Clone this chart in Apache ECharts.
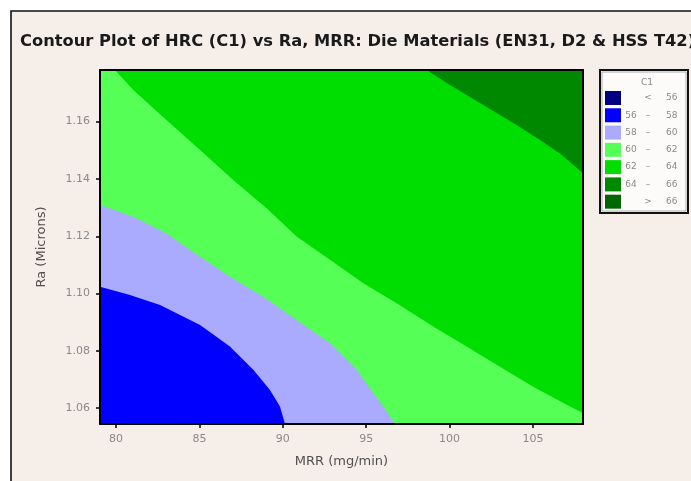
<!DOCTYPE html>
<html>
<head>
<meta charset="utf-8">
<style>
  html, body { margin: 0; padding: 0; background: #ffffff; }
  #chart { width: 691px; height: 481px; }
</style>
<script src="https://cdn.jsdelivr.net/npm/echarts@6/dist/echarts.min.js"></script>
</head>
<body>
<div id="chart"></div>
<script>
// Axis ranges and tick positions
const mrrRange = [79.04, 108.0];
const raRange = [1.0545, 1.178];
const mrrTicks = [80, 85, 90, 95, 100, 105];
const raTicks = [1.06, 1.08, 1.10, 1.12, 1.14, 1.16];

// Contour boundaries of HRC, as [MRR, Ra] points
const hrc58 = [[79.04, 1.1024], [80.84, 1.0995], [82.64, 1.0960], [85.04, 1.0890], [86.83, 1.0815],
  [88.23, 1.0734], [89.23, 1.0664], [89.83, 1.0606], [90.13, 1.0545]];
const hrc60 = [[79.04, 1.1309], [81.04, 1.1268], [83.04, 1.1210], [84.44, 1.1152], [86.83, 1.1059],
  [88.83, 1.0989], [90.83, 1.0908], [92.83, 1.0827], [94.43, 1.0734], [95.43, 1.0652],
  [96.03, 1.0606], [96.73, 1.0545]];
const hrc62 = [[79.04, 1.178], [79.94, 1.178], [81.04, 1.1710], [83.04, 1.1605], [85.04, 1.1501],
  [87.03, 1.1396], [89.03, 1.1298], [90.83, 1.1199], [92.83, 1.1118], [94.83, 1.1036],
  [96.83, 1.0966], [99.02, 1.0885], [101.02, 1.0815], [103.02, 1.0745], [105.02, 1.0675],
  [107.02, 1.0612], [108.0, 1.0583]];
const hrc64 = [[98.63, 1.178], [100.02, 1.1728], [102.02, 1.1658], [104.02, 1.1588],
  [105.42, 1.1536], [106.62, 1.1489], [108.0, 1.1420]];
// The 62-64 band fills the rest of the plot: its top edge
const plotTop = [[79.04, 1.178], [108.0, 1.178]];

// Band legend
const bandNames = ['< 56', '56 - 58', '58 - 60', '60 - 62', '62 - 64', '64 - 66', '> 66'];
const bandLo = ['', '56', '58', '60', '62', '64', ''];
const bandSep = ['<', '\u2013', '\u2013', '\u2013', '\u2013', '\u2013', '>'];
const bandHi = ['56', '58', '60', '62', '64', '66', '66'];
const bandColors = ['#000080', '#0000ff', '#aaaaff', '#55ff55', '#00dd00', '#008800', '#006600'];

function band(idx, data, origin) {
  return {
    type: 'line',
    name: bandNames[idx],
    data: data,
    color: bandColors[idx],
    showSymbol: false,
    symbol: 'none',
    smooth: false,
    clip: true,
    silent: true,
    lineStyle: { width: 0, color: bandColors[idx] },
    itemStyle: { color: bandColors[idx] },
    areaStyle: { color: bandColors[idx], opacity: 1, origin: origin || 'start' },
    z: 2
  };
}

const chart = echarts.init(document.getElementById('chart'), null, { renderer: 'canvas' });

const labelFont = 'DejaVu Sans';
const option = {
  backgroundColor: '#ffffff',
  animation: false,
  title: [{
    text: 'Contour Plot of HRC (C1) vs Ra, MRR: Die Materials (EN31, D2 & HSS T42)',
    left: 20, top: 34, padding: 0,
    textStyle: { fontFamily: labelFont, fontWeight: 'bold', fontSize: 16.3, color: '#1a1a1a' }
  }, {
    text: 'C1',
    left: 641, top: 78, padding: 0,
    textStyle: { fontFamily: labelFont, fontWeight: 'normal', fontSize: 9, color: '#888888' }
  }],
  graphic: [
    { type: 'rect', z: -10, shape: { x: 11, y: 11, width: 700, height: 500 },
      style: { fill: '#f6eee9', stroke: '#111111', lineWidth: 1.6 } },
    { type: 'rect', z: 1, shape: { x: 600, y: 70, width: 88, height: 143 },
      style: { fill: '#fdfbfa', stroke: '#111111', lineWidth: 2 } },
    { type: 'rect', z: 1, shape: { x: 602, y: 72, width: 84, height: 139 },
      style: { fill: 'none', stroke: '#9a9a9a', lineWidth: 0.8 } }
  ],
  legend: {
    data: bandNames,
    orient: 'vertical',
    left: 605, top: 91, padding: 0,
    itemWidth: 16, itemHeight: 14, itemGap: 3.28,
    icon: 'rect',
    selectedMode: false,
    z: 5,
    itemStyle: { borderWidth: 0 },
    formatter: function (name) {
      const i = bandNames.indexOf(name);
      return '{a|' + bandLo[i] + '}{b|' + bandSep[i] + '}{c|' + bandHi[i] + '}';
    },
    textStyle: {
      fontFamily: labelFont, fontSize: 9, color: '#8a8a8a',
      rich: {
        a: { width: 10, align: 'right', fontSize: 9, color: '#8a8a8a', fontFamily: labelFont },
        b: { width: 24, align: 'center', fontSize: 9, color: '#8a8a8a', fontFamily: labelFont },
        c: { padding: [0, 0, 0, 6], fontSize: 9, color: '#8a8a8a', fontFamily: labelFont }
      }
    }
  },
  grid: { left: 100, right: 108, top: 70, bottom: 57, containLabel: false, show: false },
  xAxis: [{
    type: 'value', min: mrrRange[0], max: mrrRange[1], position: 'bottom', z: 10,
    name: 'MRR (mg/min)', nameLocation: 'middle', nameGap: 31,
    nameTextStyle: { fontFamily: labelFont, fontSize: 13, color: '#505050' },
    axisLine: { show: true, lineStyle: { color: '#000000', width: 2 } },
    axisTick: { show: true, length: 4, inside: false, customValues: mrrTicks, lineStyle: { color: '#000000', width: 1.5 } },
    axisLabel: { customValues: mrrTicks, margin: 10, fontFamily: labelFont, fontSize: 11, color: '#8a8a8a' },
    splitLine: { show: false }
  }, {
    type: 'value', min: mrrRange[0], max: mrrRange[1], position: 'top', z: 10,
    axisLine: { show: true, lineStyle: { color: '#000000', width: 2 } },
    axisTick: { show: false }, axisLabel: { show: false }, splitLine: { show: false }
  }],
  yAxis: [{
    type: 'value', min: raRange[0], max: raRange[1], position: 'left', z: 10,
    name: 'Ra (Microns)', nameLocation: 'middle', nameGap: 52, nameRotate: 90,
    nameTextStyle: { fontFamily: labelFont, fontSize: 13, color: '#505050' },
    axisLine: { show: true, lineStyle: { color: '#000000', width: 2 } },
    axisTick: { show: true, length: 4, inside: false, customValues: raTicks, lineStyle: { color: '#000000', width: 1.5 } },
    axisLabel: { customValues: raTicks, margin: 10, fontFamily: labelFont, fontSize: 11, color: '#8a8a8a',
      formatter: v => v.toFixed(2) },
    splitLine: { show: false }
  }, {
    type: 'value', min: raRange[0], max: raRange[1], position: 'right', z: 10,
    axisLine: { show: true, lineStyle: { color: '#000000', width: 2 } },
    axisTick: { show: false }, axisLabel: { show: false }, splitLine: { show: false }
  }],
  series: [
    band(4, plotTop, 'start'),
    band(3, hrc62, 'start'),
    band(2, hrc60, 'start'),
    band(1, hrc58, 'start'),
    band(5, hrc64, 'end'),
    band(0, [], 'start'),
    band(6, [], 'start')
  ]
};
chart.setOption(option);
</script>
</body>
</html>
